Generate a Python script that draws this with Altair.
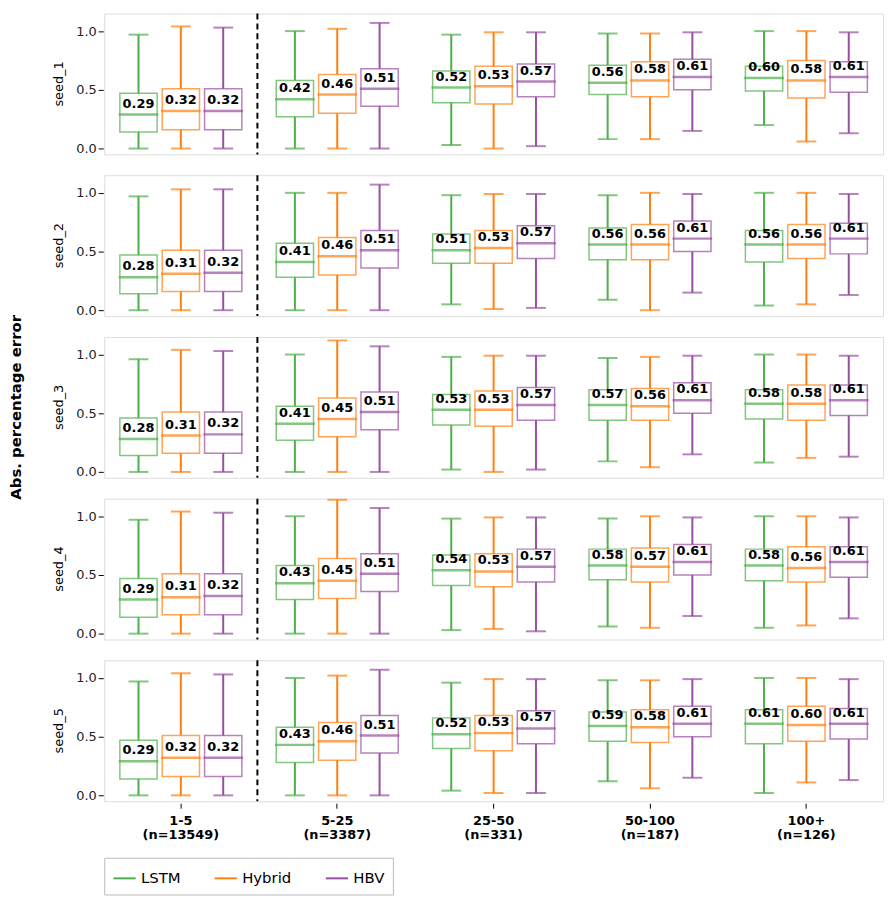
import altair as alt
import pandas as pd

groups = ["1-5|(n=13549)", "5-25|(n=3387)", "25-50|(n=331)", "50-100|(n=187)", "100+|(n=126)"]
models = ["LSTM", "Hybrid", "HBV"]
seeds = ["seed_1", "seed_2", "seed_3", "seed_4", "seed_5"]

# [lo, q1, median, q3, hi] per group, for each seed
lstm = {
    "seed_1": [[0, .14, .29, .47, .97], [0, .27, .42, .58, 1.0], [.03, .39, .52, .66, .97], [.08, .46, .56, .71, .98], [.20, .49, .60, .70, 1.0]],
    "seed_2": [[0, .14, .28, .47, .97], [0, .28, .41, .57, 1.0], [.05, .40, .51, .65, .98], [.09, .43, .56, .70, .98], [.04, .41, .56, .68, 1.0]],
    "seed_3": [[0, .14, .28, .46, .96], [0, .27, .41, .56, 1.0], [.02, .40, .53, .66, .98], [.09, .44, .57, .70, .97], [.08, .45, .58, .70, 1.0]],
    "seed_4": [[0, .14, .29, .47, .97], [0, .29, .43, .58, 1.0], [.03, .41, .54, .67, .98], [.06, .46, .58, .72, .98], [.05, .45, .58, .72, 1.0]],
    "seed_5": [[0, .14, .29, .47, .97], [0, .28, .43, .58, 1.0], [.04, .40, .52, .66, .96], [.12, .46, .59, .71, .98], [.02, .44, .61, .73, 1.0]],
}
hybrid = {
    "seed_1": [[0, .16, .32, .51, 1.04], [0, .30, .46, .63, 1.02], [0, .38, .53, .70, .99], [.08, .44, .58, .74, .98], [.06, .43, .58, .75, 1.0]],
    "seed_2": [[0, .16, .31, .51, 1.03], [0, .30, .46, .62, 1.0], [.01, .40, .53, .68, .99], [0, .43, .56, .73, 1.0], [.05, .44, .56, .73, 1.0]],
    "seed_3": [[0, .16, .31, .51, 1.04], [0, .30, .45, .63, 1.12], [0, .39, .53, .69, .99], [.04, .44, .56, .71, .98], [.12, .44, .58, .74, 1.0]],
    "seed_4": [[0, .16, .31, .51, 1.04], [0, .30, .45, .64, 1.14], [.04, .40, .53, .68, .99], [.05, .44, .57, .73, 1.0], [.07, .44, .56, .74, 1.0]],
    "seed_5": [[0, .16, .32, .51, 1.04], [0, .30, .46, .62, 1.02], [.02, .38, .53, .68, .99], [.06, .45, .58, .73, .98], [.11, .46, .60, .76, 1.0]],
}
hbv = [[0, .16, .32, .51, 1.03], [0, .36, .51, .68, 1.07], [.02, .44, .57, .72, .99], [.15, .50, .61, .76, .99], [.13, .48, .61, .74, .99]]

rows = []
for s in seeds:
    for gi, g in enumerate(groups):
        for m, v in (("LSTM", lstm[s][gi]), ("Hybrid", hybrid[s][gi]), ("HBV", hbv[gi])):
            rows.append(dict(seed=s, group=g, model=m, lo=v[0], q1=v[1], med=v[2], q3=v[3], hi=v[4],
                             lab=f"{v[2]:.2f}"))
df = pd.DataFrame(rows)

colors = ["#4daf4a", "#ff7f0e", "#984ea3"]
color = alt.Color("model:N", sort=models, scale=alt.Scale(domain=models, range=colors),
                  legend=alt.Legend(title=None, orient="bottom", direction="horizontal",
                                    symbolType="stroke", symbolStrokeWidth=2, symbolSize=500,
                                    strokeColor="#bbb", padding=8, labelFontSize=15,
                                    columnPadding=30, offset=16))
x = alt.X("group:N", sort=groups, title=None,
          scale=alt.Scale(paddingInner=0.22, paddingOuter=0.1),
          axis=alt.Axis(labelExpr="split(datum.label,'|')", labelAngle=0, labelFontWeight="bold",
                        labelFontSize=13, labelColor="black", tickColor="black", domain=False,
                        labelPadding=6))
xo = alt.XOffset("model:N", sort=models, scale=alt.Scale(domain=models, paddingInner=0.12))
y = alt.Y("q1:Q", title=None, scale=alt.Scale(domain=[-0.05, 1.15], nice=False),
          axis=alt.Axis(values=[0, 0.5, 1.0], format=".1f", grid=False, labelFontSize=13,
                        labelColor="#222", tickColor="black", domain=False))

base = alt.Chart()
box = base.mark_bar(fill="white", fillOpacity=1, strokeWidth=1.5, strokeOpacity=0.7).encode(
    x=x, xOffset=xo, y=y, y2="q3:Q", stroke=color)
wlo = base.mark_rule(strokeWidth=2).encode(x=x, xOffset=xo, y="lo:Q", y2="q1:Q", color=color)
whi = base.mark_rule(strokeWidth=2).encode(x=x, xOffset=xo, y="q3:Q", y2="hi:Q", color=color)
caplo = base.mark_tick(size=20, thickness=2).encode(x=x, xOffset=xo, y="lo:Q", color=color)
caphi = base.mark_tick(size=20, thickness=2).encode(x=x, xOffset=xo, y="hi:Q", color=color)
med = base.mark_tick(size=40, thickness=2.5).encode(x=x, xOffset=xo, y="med:Q", color=color)
txt = base.mark_text(dy=-11, fontWeight="bold", fontSize=13, color="black").encode(
    x=x, xOffset=xo, y="med:Q", text="lab:N")
sep = base.mark_rule(strokeDash=[6, 4], strokeWidth=2, color="black", xOffset=-19).transform_filter(
    (alt.datum.group == groups[1]) & (alt.datum.model == "LSTM")).encode(
    x=alt.X("group:N", sort=groups, bandPosition=0), y=alt.value(0), y2=alt.value(142))

chart = alt.layer(box, wlo, whi, caplo, caphi, med, txt, sep, data=df).properties(
    width=785, height=142).facet(
    row=alt.Row("seed:N", sort=seeds, title="Abs. percentage error",
                header=alt.Header(labelAngle=-90, labelOrient="left", labelFontSize=13,
                                  labelPadding=4, titleOrient="left", titleFontSize=15,
                                  titleFontWeight="bold", titleAngle=-90, titlePadding=4))
).properties(spacing=17).configure_view(stroke="#000000", strokeWidth=1.2, strokeOpacity=1).configure(
    font="DejaVu Sans", padding=0)

chart.save("out.html", embed_options={"renderer": "svg", "actions": False})
